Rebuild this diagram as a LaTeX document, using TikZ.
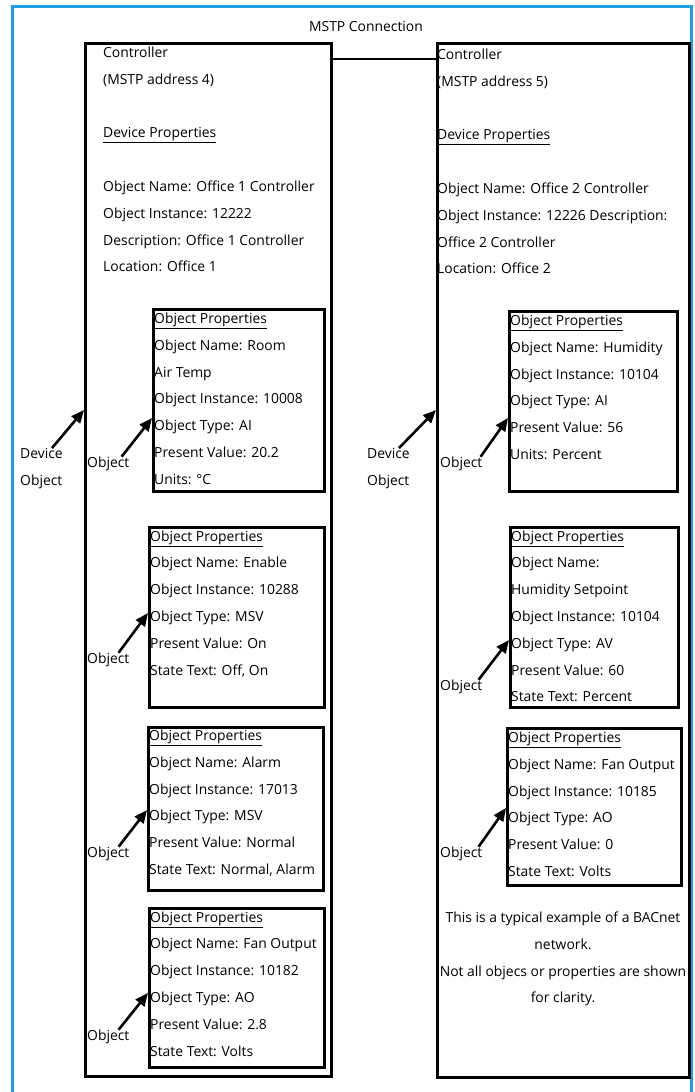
\documentclass[tikz,border=0pt]{standalone}
\usepackage{fontspec}
\setmainfont{Open Sans}
\usetikzlibrary{positioning, arrows.meta}
\definecolor{frameblue}{RGB}{27,161,226}

\begin{document}
\begin{tikzpicture}[
  x=1pt, y=-1pt,
  every node/.style={inner sep=0pt, font=\fontsize{13.9}{26.8}\selectfont},
  txt/.style={align=left, anchor=base west},
  ctrlbox/.style={draw, line width=3pt, anchor=north west},
  objbox/.style={draw, line width=2.6pt, anchor=north west},
  ptr/.style={-{Triangle[length=13pt,width=11pt]}, line width=2.6pt},
  link/.style={line width=2.6pt}
]
  \useasboundingbox (0,0) rectangle (694,1092);
  \draw[frameblue, line width=3pt] (12,1110) -- (12,6) -- (691,6) -- (691,1110);

  \node[ctrlbox, minimum width=246pt, minimum height=1033pt] (ctrlA) at (84,42) {};
  \node[ctrlbox, minimum width=252pt, minimum height=1034pt] (ctrlB) at (436,42) {};
  \draw[link] ([yshift=-17pt]ctrlA.north east) -- ([yshift=-17pt]ctrlB.north west);
  \node[anchor=base] (mstp) at (366,31) {MSTP Connection};

  % text nodes sit on the baseline of their last line
  \node[txt] (devpropA) at (103,271.9) {Controller\\(MSTP address 4)\\ {}\\\underline{Device Properties}\\ {}\\Object Name: Office 1 Controller\\Object Instance: 12222\\Description: Office 1 Controller\\Location: Office 1};
  \node[txt] (devpropB) at (437,273.9) {Controller\\(MSTP address 5)\\ {}\\\underline{Device Properties}\\ {}\\Object Name: Office 2 Controller\\Object Instance: 12226 Description:\\Office 2 Controller\\Location: Office 2};

  \node[objbox, minimum width=171pt, minimum height=182pt] (oA1) at (152,308) {};
  \node[objbox, minimum width=175pt, minimum height=180pt] (oA2) at (148,526) {};
  \node[objbox, minimum width=175pt, minimum height=163pt] (oA3) at (147,726) {};
  \node[objbox, minimum width=175pt, minimum height=159pt] (oA4) at (148,907) {};
  \node[objbox, minimum width=168pt, minimum height=180pt] (oB1) at (508,310) {};
  \node[objbox, minimum width=168pt, minimum height=180pt] (oB2) at (509,526) {};
  \node[objbox, minimum width=174pt, minimum height=157pt] (oB3) at (506,727) {};

  \node[txt] (tA1) at (154,484.3) {\underline{Object Properties}\\Object Name: Room\\Air Temp\\Object Instance: 10008\\Object Type: AI\\Present Value: 20.2\\Units: °C};
  \node[txt] (tA2) at (150,675) {\underline{Object Properties}\\Object Name: Enable\\Object Instance: 10288\\Object Type: MSV\\Present Value: On\\State Text: Off, On};
  \node[txt] (tA3) at (149,874.5) {\underline{Object Properties}\\Object Name: Alarm\\Object Instance: 17013\\Object Type: MSV\\Present Value: Normal\\State Text: Normal, Alarm};
  \node[txt] (tA4) at (150,1056) {\underline{Object Properties}\\Object Name: Fan Output\\Object Instance: 10182\\Object Type: AO\\Present Value: 2.8\\State Text: Volts};
  \node[txt] (tB1) at (510,459.5) {\underline{Object Properties}\\Object Name: Humidity\\Object Instance: 10104\\Object Type: AI\\Present Value: 56\\Units: Percent};
  \node[txt] (tB2) at (511,701.8) {\underline{Object Properties}\\Object Name:\\Humidity Setpoint\\Object Instance: 10104\\Object Type: AV\\Present Value: 60\\State Text: Percent};
  \node[txt] (tB3) at (508,876.5) {\underline{Object Properties}\\Object Name: Fan Output\\Object Instance: 10185\\Object Type: AO\\Present Value: 0\\State Text: Volts};

  \node[txt] (devA) at (20,485.3) {Device\\Object};
  \node[txt] (devB) at (367,485.3) {Device\\Object};
  \node[txt] (lA1) at (87,467.5) {Object};
  \node[txt] (lA2) at (87,663.5) {Object};
  \node[txt] (lA3) at (87,857.5) {Object};
  \node[txt] (lA4) at (87,1040.5) {Object};
  \node[txt] (lB1) at (440,467.5) {Object};
  \node[txt] (lB2) at (440,690.5) {Object};
  \node[txt] (lB3) at (440,857.5) {Object};

  \draw[ptr] ([xshift=-11pt]devA.north east) -- (ctrlA.west |- 0,410);
  \draw[ptr] ([xshift=-11pt]devB.north east) -- (ctrlB.west |- 0,410);
  \draw[ptr] ([xshift=-8pt]lA1.north east) -- (oA1.west |- 0,418);
  \draw[ptr] ([xshift=-11pt]lA2.north east) -- (oA2.west |- 0,613);
  \draw[ptr] ([xshift=-11pt]lA3.north east) -- (oA3.west |- 0,810);
  \draw[ptr] ([xshift=-11pt]lA4.north east) -- (oA4.west |- 0,993);
  \draw[ptr] ([xshift=-2pt]lB1.north east) -- (oB1.west |- 0,418);
  \draw[ptr] ([xshift=-4pt]lB2.north east) -- (oB2.west |- 0,640);
  \draw[ptr] ([xshift=-4pt]lB3.north east) -- (oB3.west |- 0,808);

  \node[align=center, anchor=base] (note) at (563,1002.9) {This is a typical example of a BACnet\\network.\\Not all objecs or properties are shown\\for clarity.};
\end{tikzpicture}
\end{document}
